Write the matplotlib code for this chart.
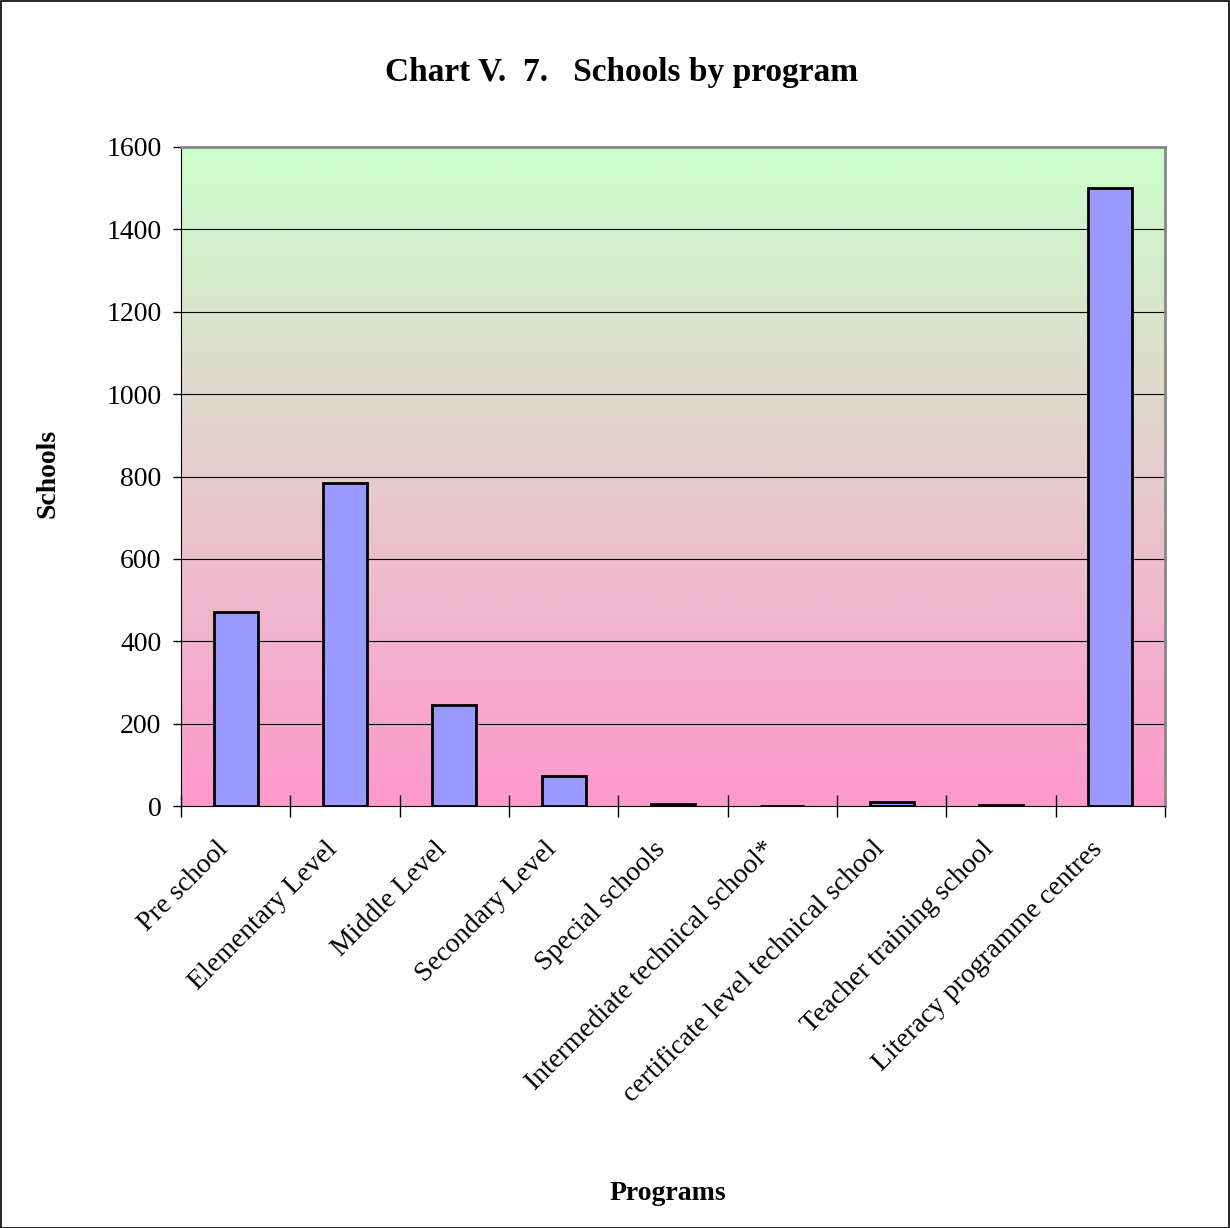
import matplotlib
matplotlib.use("Agg")
import matplotlib.pyplot as plt
from matplotlib.colors import LinearSegmentedColormap
from matplotlib.patches import Rectangle
from matplotlib.transforms import ScaledTranslation
import numpy as np

categories = ["Pre school", "Elementary Level", "Middle Level", "Secondary Level",
              "Special schools", "Intermediate technical school*",
              "certificate level technical school", "Teacher training school",
              "Literacy programme centres"]
schools = [471, 784, 245, 73, 4, 0, 9, 2, 1500]
yticks = [0, 200, 400, 600, 800, 1000, 1200, 1400, 1600]

plt.rcParams['font.family'] = ['Liberation Serif', 'DejaVu Serif']

fig = plt.figure(figsize=(12.3, 12.28), dpi=100)
ax = fig.add_axes([181 / 1230, 1 - 806 / 1228, 984 / 1230, 659 / 1228])

# background gradient: green at top, pink at bottom
cmap = LinearSegmentedColormap.from_list("bg", ["#ff99cc", "#ccffcc"])
grad = np.linspace(0, 1, 256).reshape(-1, 1)
n = len(categories)
ax.imshow(grad, cmap=cmap, origin="lower", aspect="auto",
          extent=(-0.5, n - 0.5, 0, 1600), zorder=0)

x = np.arange(n)
ax.bar(x, schools, width=0.4, color="#9999ff", edgecolor="black",
       linewidth=2, zorder=3)

ax.set_xlim(-0.5, n - 0.5)
ax.set_ylim(0, 1600)
ax.set_yticks(yticks)
ax.set_yticklabels([str(v) for v in yticks], fontsize=20)
for v in yticks[1:-1]:
    ax.axhline(v, color="black", linewidth=0.8, zorder=1)

ax.set_xticks(np.arange(n + 1) - 0.5)
ax.set_xticklabels([])
ax.set_xticks(x, minor=True)
ax.tick_params(axis="x", which="minor", length=0, pad=22)
ax.tick_params(axis="x", which="major", direction="inout", length=16, width=1)
ax.tick_params(axis="y", direction="out", length=6, width=1, pad=8)
labels = ax.set_xticklabels(categories, minor=True, rotation=45, ha="right",
                            rotation_mode="anchor", fontsize=20)
# nudge the rotated labels a bit left, like the original
shift = ScaledTranslation(-20 / 100, 0, fig.dpi_scale_trans)
for lab in labels:
    lab.set_transform(lab.get_transform() + shift)

for side in ["top", "right"]:
    ax.spines[side].set_color("#888888")
    ax.spines[side].set_linewidth(2)
ax.spines["left"].set_color("black")
ax.spines["bottom"].set_color("black")

fig.text(48 / 1230, 1 - 473 / 1228, "Schools", fontsize=20, fontweight="bold",
         rotation=90, ha="center", va="center")
fig.text(668 / 1230, 1 - 1193 / 1228, "Programs", fontsize=20,
         fontweight="bold", ha="center", va="center")
fig.text(622 / 1230, 1 - 73 / 1228, "Chart V.  7.   Schools by program",
         fontsize=24, fontweight="bold", ha="center", va="center")

fig.patches.append(Rectangle((0.5 / 1230, 0.5 / 1228), 1 - 1.5 / 1230,
                             1 - 1.5 / 1228, transform=fig.transFigure,
                             fill=False, edgecolor="black", linewidth=1.2))

fig.savefig("out.png", dpi=100)
